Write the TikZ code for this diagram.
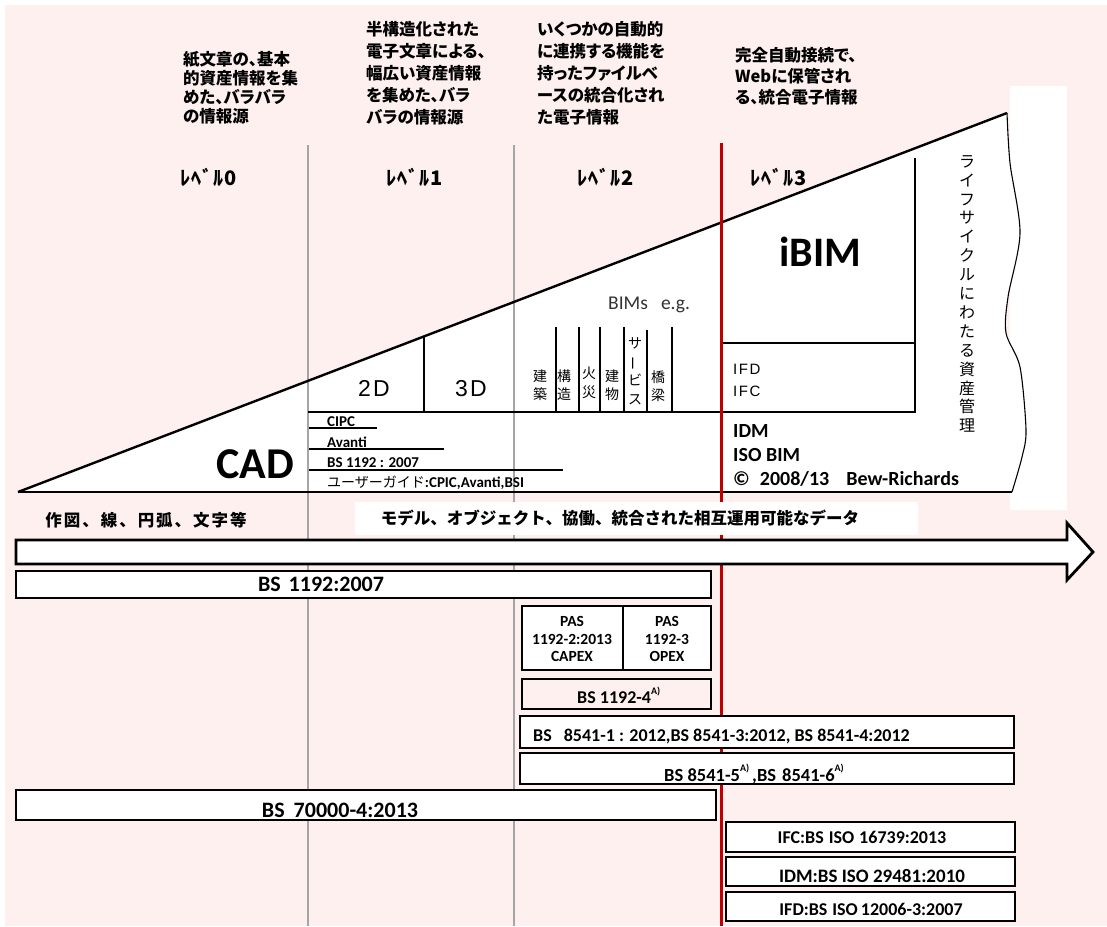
\documentclass[tikz,border=0pt]{standalone}
\usepackage{fontspec}
\setmainfont{Carlito}
\newfontfamily\jp{Noto Sans CJK JP}
\newfontfamily\jpp{Noto Sans CJK JP}[RawFeature=+palt]
\newfontfamily\jpsp{Noto Sans CJK JP}[LetterSpace=12]
\newfontfamily\jplv{Noto Sans CJK JP}[LetterSpace=5]
\newfontfamily\arsp{Liberation Sans}[LetterSpace=10]
\definecolor{bgpink}{RGB}{253,240,238}
\definecolor{grayl}{RGB}{165,165,165}
\definecolor{redl}{RGB}{192,0,0}
\newcommand{\fsz}[1]{\fontsize{#1}{#1}\selectfont}
\newcommand{\mysup}[1]{\raisebox{0.5em}{\fontsize{10}{10}\selectfont #1}}
\begin{document}
\begin{tikzpicture}[x=1pt,y=-1pt,line join=miter]
\tikzset{
  box/.style={draw=black,line width=2.6pt,fill=white},
  triline/.style={line width=2.4pt},
  thinline/.style={line width=1.3pt},
  gline/.style={draw=grayl,line width=1.5pt},
  desc/.style={font=\jpp\bfseries\fsz{16.5},anchor=base west,inner sep=0pt},
  lvl/.style={font=\jplv\bfseries\fsz{20},anchor=base,inner sep=0pt},
  bim/.style={font=\jp\fontsize{14}{18.5}\selectfont,align=center,inner sep=0pt},
  smallb/.style={font=\bfseries\fsz{15},anchor=base west,inner sep=0pt},
  boxtxt/.style={font=\bfseries\fsz{18},anchor=base,inner sep=0pt},
  idtxt/.style={font=\bfseries\fsz{20},anchor=base west,inner sep=0pt}
}
\useasboundingbox (0,0) rectangle (1107,926);
\fill[white] (0,0) rectangle (1107,926);
\fill[bgpink] (5,5) rectangle (1107,926);
\fill[white] (1010,86) rectangle (1067,510);

% ---- top descriptions
\foreach \t [count=\i from 0] in {紙文章の、基本,的資産情報を集,めた、バラバラ,の情報源}
  \node[desc] (da\i) at (183,65+19*\i) {\t};
\foreach \t [count=\i from 0] in {半構造化された,電子文章による、,幅広い資産情報,を集めた、バラ,バラの情報源}
  \node[desc] (db\i) at (366,35+22*\i) {\t};
\foreach \t [count=\i from 0] in {いくつかの自動的,に連携する機能を,持ったファイルベ,ースの統合化され,た電子情報}
  \node[desc] (dc\i) at (537,35+22*\i) {\t};
\foreach \t [count=\i from 0] in {完全自動接続で、,Webに保管され,る、統合電子情報}
  \node[desc] (dd\i) at (735,61+21*\i) {\t};

\node[lvl] (lv0) at (209,185) {ﾚﾍﾞﾙ0};
\node[lvl] (lv1) at (415,185) {ﾚﾍﾞﾙ1};
\node[lvl] (lv2) at (606,185) {ﾚﾍﾞﾙ2};
\node[lvl] (lv3) at (779,185) {ﾚﾍﾞﾙ3};

% ---- triangle
\coordinate (apex) at (18,492);
\coordinate (tr) at (1007,113);
\coordinate (br) at (1012,492);
\path[fill=white] (apex) -- plot[smooth] coordinates {(1007,113) (1010,163) (1020,233) (1008,297) (1006,333) (1020,367) (1026,430) (1022,457) (1012,492)} -- cycle;

% level separators
\coordinate (g1t) at (308,145); \coordinate (g1b) at (308,926);
\coordinate (g2t) at (514,145); \coordinate (g2b) at (514,926);
\draw[gline] (g1t) -- (g1b);
\draw[gline] (g2t) -- (g2b);

\draw[triline] (apex) -- (tr);
\draw[line width=2.8pt] (apex) -- (br);
\draw[line width=1.1pt] plot[smooth] coordinates {(1007,113) (1010,163) (1020,233) (1008,297) (1006,333) (1020,367) (1026,430) (1022,457) (1012,492)};

% inner structure
\draw[triline] (308,412) -- (916,412);
\draw[triline] (915,158) -- (915,413);
\draw[triline] (721,343) -- (916,343);
\draw[triline] (424,337) -- (424,412);
\foreach \x/\yt in {556/327,579/327,600/327,624/327,647/330,672/327}
  \draw[line width=1.4pt] (\x,\yt) -- (\x,412);

% red line
\coordinate (rt) at (721,143); \coordinate (rb) at (721,926);
\draw[draw=redl,line width=3pt] (rt) -- (rb);

% triangle texts
\node[font=\bfseries\fsz{44},anchor=base,inner sep=0pt] (cad) at (255,478) {CAD};
\node[font=\arsp\fsz{23},anchor=base,inner sep=0pt] (t2d) at (374,396) {2D};
\node[font=\arsp\fsz{23},anchor=base,inner sep=0pt] (t3d) at (471,396) {3D};
\node[bim] (bim1) at (540,385) {建\\築};
\node[bim] (bim2) at (564,385) {構\\造};
\node[bim] (bim3) at (589,383) {火\\災};
\node[bim] (bim4) at (612,385) {建\\物};
\node[bim] (bim5) at (635,371) {サ\\\rotatebox[origin=c]{90}{ー}\\ビ\\ス};
\node[bim] (bim6) at (658,386) {橋\\梁};
\node[font=\fsz{19.5},anchor=base west,inner sep=0pt,text=black!80] (bims) at (608,309) {BIMs\hspace{13pt}e.g.};
\node[font=\bfseries\fsz{42},anchor=base,inner sep=0pt] (ibim) at (820,266) {iBIM};
\node[font=\arsp\fsz{15},anchor=base west,inner sep=0pt] (ifd) at (733,374) {IFD};
\node[font=\arsp\fsz{15},anchor=base west,inner sep=0pt] (ifc) at (733,396) {IFC};
\node[idtxt] (idm) at (733,437) {IDM};
\node[idtxt] (isobim) at (733,461) {ISO BIM};
\node[idtxt] (copy) at (733,485) {©\hspace{10pt}2008/13\hspace{17pt}Bew-Richards};
\node[font=\jp\fontsize{16}{18.9}\selectfont,align=center,inner sep=0pt] (life) at (967,294)
  {ラ\\イ\\フ\\サ\\イ\\ク\\ル\\に\\わ\\た\\る\\資\\産\\管\\理};

\node[smallb] (cipc) at (327,426) {CIPC};
\node[smallb] (avanti) at (327,447) {Avanti};
\node[smallb] (bs1192s) at (327,467) {BS 1192 : 2007};
\node[smallb] (guide) at (327,487) {{\jp\mdseries\fsz{14}ユーザーガイド}:CPIC,Avanti,BSI};
\draw[thinline] (309,428) -- (377,428);
\draw[thinline] (309,449) -- (444,449);
\draw[thinline] (309,470) -- (563,470);

% ---- band texts and arrow
\fill[white] (355,502) rectangle (918,535);
\node[font=\jpsp\bfseries\fsz{16.5},anchor=base,inner sep=0pt] (sakuzu) at (146,526) {作図、線、円弧、文字等};
\node[font=\jp\bfseries\fsz{16.5},anchor=base,inner sep=0pt] (model) at (620,524) {モデル、オブジェクト、協働、統合された相互運用可能なデータ};
\draw[box,line width=2.8pt] (16,540) -- (1067,540) -- (1067,523) -- (1093,552) -- (1067,580) -- (1067,564) -- (16,564) -- cycle;

% ---- standard boxes
\draw[box] (16,571) rectangle (711,598);
\node[font=\bfseries\fsz{22},anchor=base,inner sep=0pt] (t1192) at (321,591) {BS\hspace{8pt}1192:2007};
\draw[box] (522,606) rectangle (623,670);
\draw[box] (623,606) rectangle (711,670);
\node[font=\bfseries\fontsize{15.5}{17.5}\selectfont,align=center,inner sep=0pt] (tpas2) at (572,639) {PAS\\1192-2:2013\\CAPEX};
\node[font=\bfseries\fontsize{15.5}{17.5}\selectfont,align=center,inner sep=0pt] (tpas3) at (667,639) {PAS\\1192-3\\OPEX};
\draw[box,fill=bgpink] (522,679) rectangle (711,709);
\node[font=\bfseries\fsz{18},anchor=base west,inner sep=0pt] (t11924) at (577,703) {BS 1192-4\mysup{A)}};
\draw[box] (520,716) rectangle (1014,748);
\node[font=\bfseries\fsz{18},anchor=base west,inner sep=0pt] (t85411) at (533,741) {BS\hspace{12pt}8541-1 : 2012,BS 8541-3:2012, BS 8541-4:2012};
\draw[box] (520,753) rectangle (1014,784);
\node[font=\bfseries\fsz{18.5},anchor=base west,inner sep=0pt] (t85415) at (664,781) {BS 8541-5\mysup{A)}\hspace{3pt},BS\hspace{6pt}8541-6\mysup{A)}};
\draw[box] (16,790) rectangle (716,820);
\node[font=\bfseries\fsz{22},anchor=base,inner sep=0pt] (t70000) at (340,817) {BS\hspace{9pt}70000-4:2013};
\draw[box] (726,822) rectangle (1015,852);
\node[boxtxt] (tifc) at (862,843) {IFC:BS\hspace{5pt}ISO\hspace{5pt}16739:2013};
\draw[box] (726,857) rectangle (1015,886);
\node[boxtxt,font=\bfseries\fsz{19}] (tidm) at (872,882) {IDM:BS ISO 29481:2010};
\draw[box] (726,892) rectangle (1015,921);
\node[boxtxt] (tifd) at (871,915) {IFD:BS\hspace{5pt}ISO\hspace{3pt}12006-3:2007};
\end{tikzpicture}
\end{document}
